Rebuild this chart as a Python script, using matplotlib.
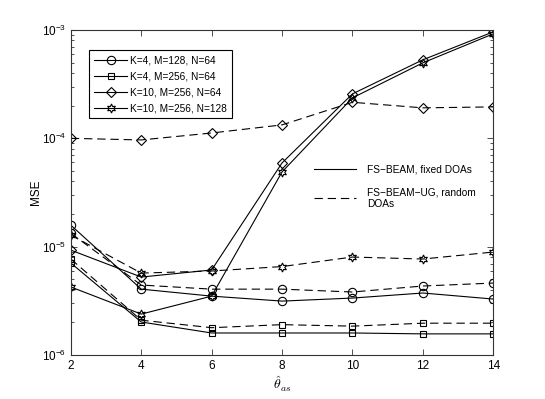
import matplotlib
matplotlib.use("Agg")
import matplotlib.pyplot as plt
from matplotlib.lines import Line2D
from matplotlib.ticker import LogLocator, NullFormatter

plt.rcParams['font.family'] = ['Liberation Sans', 'DejaVu Sans']
plt.rcParams['mathtext.fontset'] = 'custom'
plt.rcParams['mathtext.rm'] = 'Liberation Sans'
plt.rcParams['mathtext.it'] = 'Liberation Sans:italic'
plt.rcParams['lines.scale_dashes'] = False

# ---- data ----
theta = [2, 4, 6, 8, 10, 12, 14]
circle_fixed = [1.58e-5, 4.06e-6, 3.50e-6, 3.15e-6, 3.36e-6, 3.74e-6, 3.29e-6]
circle_rand = [1.33e-5, 4.43e-6, 4.06e-6, 4.06e-6, 3.82e-6, 4.34e-6, 4.62e-6]
square_fixed = [7.07e-6, 2.02e-6, 1.60e-6, 1.60e-6, 1.60e-6, 1.57e-6, 1.57e-6]
square_rand = [7.7e-6, 2.1e-6, 1.79e-6, 1.91e-6, 1.85e-6, 1.97e-6, 1.97e-6]
diamond_fixed = [9.3e-6, 5.25e-6, 6.1e-6, 5.93e-5, 2.57e-4, 5.3e-4, 9.6e-4]
diamond_rand = [1.0e-4, 9.66e-5, 1.12e-4, 1.33e-4, 2.15e-4, 1.91e-4, 1.95e-4]
star_fixed = [4.25e-6, 2.39e-6, 3.5e-6, 4.9e-5, 2.36e-4, 4.97e-4, 9.2e-4]
star_rand = [1.28e-5, 5.71e-6, 5.97e-6, 6.56e-6, 8.03e-6, 7.7e-6, 8.93e-6]

labels = ["K=4, M=128, N=64", "K=4, M=256, N=64",
          "K=10, M=256, N=64", "K=10, M=256, N=128"]
style_labels = ["FS\u2212BEAM, fixed DOAs", "FS\u2212BEAM\u2212UG, random\nDOAs"]
xticks = [2, 4, 6, 8, 10, 12, 14]

fig = plt.figure(figsize=(5.45, 3.99), dpi=100)
ax = fig.add_axes([0.13, 0.11, 0.775, 0.815])

lw = 0.8
dash = (6, 3.5)
series = [
    (circle_fixed, circle_rand, 'o', 6),
    (square_fixed, square_rand, 's', 5),
    (diamond_fixed, diamond_rand, 'D', 5),
    (star_fixed, star_rand, (6, 1, 0), 6.5),
]
handles = []
for (fx, rd, mk, ms), lab in zip(series, labels):
    h, = ax.plot(theta, fx, color='k', lw=lw, marker=mk, ms=ms,
                 mfc='none', mec='k', mew=0.8, label=lab)
    ax.plot(theta, rd, color='k', lw=lw, ls='--', dashes=dash, marker=mk,
            ms=ms, mfc='none', mec='k', mew=0.8)
    handles.append(h)

ax.set_yscale('log')
ax.set_ylim(1e-6, 1e-3)
ax.set_xlim(2, 14)
ax.set_xticks(xticks)
ax.yaxis.set_minor_locator(LogLocator(base=10, subs=range(2, 10)))
ax.yaxis.set_minor_formatter(NullFormatter())
ax.tick_params(which='both', direction='in', top=True, right=True,
               labelsize=8.5, color='#333333')
ax.tick_params(which='major', length=4, width=0.6)
ax.tick_params(which='minor', length=2, width=0.6)
for s in ax.spines.values():
    s.set_color('#333333')
    s.set_linewidth(0.8)

ax.set_ylabel('MSE', fontsize=8.5, labelpad=0)
ax.set_xlabel(r'$\hat{\theta}_{as}$', fontsize=10, math_fontfamily='cm', labelpad=2)

leg1 = ax.legend(handles=handles, loc='upper left', bbox_to_anchor=(0.0427, 0.938),
                 borderaxespad=0, fontsize=7.3, handlelength=3.3, handletextpad=0.3,
                 labelspacing=0.6, borderpad=0.5, fancybox=False, framealpha=1,
                 edgecolor='k')
leg1.get_frame().set_linewidth(0.8)
ax.add_artist(leg1)

style_handles = [Line2D([], [], color='k', lw=lw),
                 Line2D([], [], color='k', lw=lw, ls='--', dashes=dash)]
ax.legend(handles=style_handles, labels=style_labels, loc='upper left',
          bbox_to_anchor=(0.575, 0.585), borderaxespad=0, borderpad=0,
          fontsize=7.3, handlelength=4.2, handletextpad=1.1, labelspacing=1.2,
          frameon=False)

fig.savefig('out.png', dpi=100)
